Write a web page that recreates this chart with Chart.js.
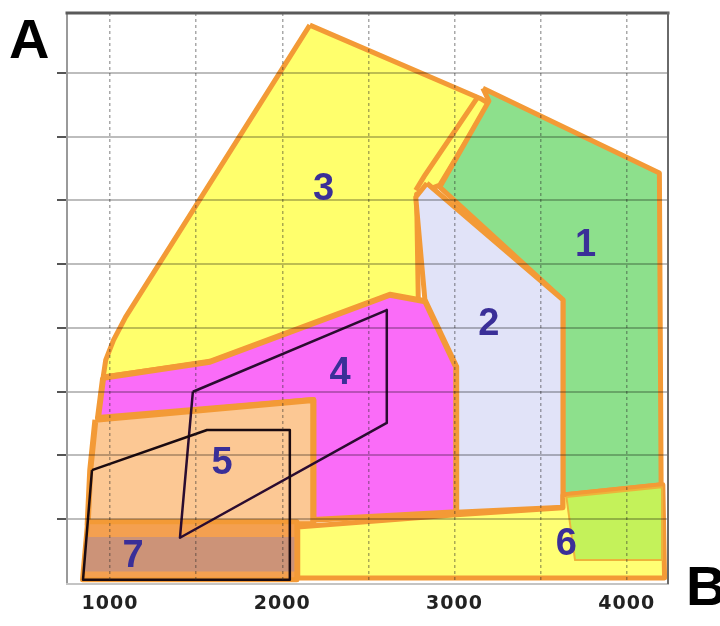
<!DOCTYPE html>
<html>
<head>
<meta charset="utf-8">
<script src="https://cdn.jsdelivr.net/npm/chart.js@4.4.1/dist/chart.umd.min.js"></script>
<style>
html,body{margin:0;padding:0;background:#fff;}
#c{display:block;}
</style>
</head>
<body>
<canvas id="c" width="720" height="626"></canvas>
<script>
// ---- axis values ----
const xMin = 750, xMax = 4240;
const yMin = 0, yMax = 8.94;
const xGridValues = [1000, 1500, 2000, 2500, 3000, 3500, 4000];
const xLabelValues = [1000, 2000, 3000, 4000];
const yGridValues = [1, 2, 3, 4, 5, 6, 7, 8];

// ---- region outlines (x = B, y = A in grid units) ----
const region3 = [[2160,8.75],[3150,7.60],[3200,7.52],[2915,6.24],[2780,6.10],[2790,4.44],[2625,4.50],[1580,3.47],[960,3.23],[975,3.50],[1020,3.81],[1090,4.17]];
const region3Edge = [[3140,7.64],[2825,6.38],[2775,6.16]];
const region1 = [[3165,7.76],[4190,6.43],[4200,1.54],[3630,1.38],[3630,4.44],[2915,6.21],[3200,7.56]];
const region2 = [[2840,6.27],[3630,4.44],[3630,1.19],[3010,1.11],[3010,3.39],[2830,4.39],[2775,6.05]];
const region4 = [[960,3.22],[1580,3.47],[2625,4.52],[2830,4.42],[3010,3.39],[3010,1.11],[2180,0.99],[2180,2.87],[930,2.59]];
const region6 = [[2090,0.88],[3010,1.07],[3630,1.18],[3630,1.38],[4210,1.54],[4220,0.08],[2090,0.08]];
const region6b = [[3650,1.35],[4205,1.50],[4205,0.36],[3700,0.36]];
const region5 = [[915,2.56],[2180,2.87],[2180,0.92],[870,0.92],[885,1.77]];
const region7 = [[870,0.96],[2085,0.96],[2085,0.05],[840,0.05]];
const region7b = [[862,0.72],[2070,0.72],[2070,0.18],[848,0.18]];
const box4 = [[1481,3.00],[2607,4.28],[2607,2.51],[1406,0.71]];
const box5 = [[895,1.77],[1563,2.40],[2044,2.40],[2044,0.05],[843,0.05]];

// ---- region numbers ----
const labelTexts = ['1','2','3','4','5','6','7'];
const labelX = [3762, 3200, 2240, 2335, 1650, 3650, 1133];
const labelY = [5.33, 4.09, 6.21, 3.31, 1.90, 0.63, 0.44];

function pts(arr, close) {
  const p = arr.map(([x, y]) => ({x, y}));
  if (close) p.push({x: arr[0][0], y: arr[0][1]});
  return p;
}
const ORANGE = '#F39A36';
function poly(arr, fillColor, border, width, order) {
  return {
    data: pts(arr, true),
    fill: fillColor ? 'shape' : false,
    backgroundColor: fillColor || 'transparent',
    borderColor: border,
    borderWidth: width,
    borderJoinStyle: 'round',
    pointRadius: 0,
    tension: 0,
    order: order
  };
}

const datasets = [
  poly(region3, '#FFFF6C', ORANGE, 5, 20),
  {data: pts(region3Edge, false), fill: false, borderColor: ORANGE, borderWidth: 5, pointRadius: 0, tension: 0, order: 19},
  poly(region1, '#8DE08C', ORANGE, 5, 18),
  poly(region2, '#E1E3F8', ORANGE, 5, 17),
  poly(region4, '#FA6CF8', ORANGE, 6, 16),
  poly(region6, '#FFFF74', ORANGE, 5, 15),
  poly(region6b, '#C4F25A', '#EDB43A', 2, 14),
  poly(region5, '#FCC894', ORANGE, 6, 13),
  poly(region7, '#F4A050', ORANGE, 5, 12),
  poly(region7b, '#CC9378', 'transparent', 0, 11),
  poly(box4, null, '#2A0C30', 2.5, 2),
  poly(box5, null, '#1A0A10', 2.5, 1)
];

const decor = {
  id: 'decor',
  beforeDraw(chart) { chart.ctx.letterSpacing = '1px'; },
  afterDraw(chart) {
    const ctx = chart.ctx;
    const a = chart.chartArea;
    const xs = chart.scales.x, ys = chart.scales.y;
    ctx.save();
    ctx.letterSpacing = '0px';
    // frame
    ctx.lineCap = 'square';
    ctx.strokeStyle = '#9a9a9a'; ctx.lineWidth = 2;
    ctx.beginPath(); ctx.moveTo(a.left, a.top); ctx.lineTo(a.left, a.bottom); ctx.stroke();
    ctx.strokeStyle = '#c4c4c4'; ctx.lineWidth = 2;
    ctx.beginPath(); ctx.moveTo(a.left, a.bottom + 1); ctx.lineTo(a.right, a.bottom + 1); ctx.stroke();
    ctx.strokeStyle = '#5a5a5a'; ctx.lineWidth = 3;
    ctx.beginPath(); ctx.moveTo(a.left, a.top); ctx.lineTo(a.right, a.top); ctx.stroke();
    ctx.strokeStyle = '#6a6a6a'; ctx.lineWidth = 2;
    ctx.beginPath(); ctx.moveTo(a.right, a.top); ctx.lineTo(a.right, a.bottom); ctx.stroke();
    // region numbers
    ctx.fillStyle = '#3A2F98';
    ctx.font = 'bold 38px "Liberation Sans", Arial, sans-serif';
    ctx.textAlign = 'center';
    ctx.textBaseline = 'middle';
    for (let i = 0; i < labelTexts.length; i++) {
      ctx.fillText(labelTexts[i], xs.getPixelForValue(labelX[i]), ys.getPixelForValue(labelY[i]) + 2);
    }
    // axis names
    ctx.fillStyle = '#000';
    ctx.font = 'bold 56px "Liberation Sans", Arial, sans-serif';
    ctx.textAlign = 'left';
    ctx.textBaseline = 'alphabetic';
    ctx.fillText('A', 9, 58);
    ctx.fillText('B', 686, 605);
    ctx.restore();
  }
};

new Chart(document.getElementById('c'), {
  type: 'line',
  data: { datasets },
  options: {
    responsive: false,
    animation: false,
    devicePixelRatio: 1,
    layout: { padding: { top: 13, right: 52, left: 0, bottom: 0 } },
    plugins: { legend: { display: false }, tooltip: { enabled: false } },
    scales: {
      x: {
        type: 'linear', min: xMin, max: xMax,
        afterBuildTicks: s => { s.ticks = xGridValues.map(v => ({value: v})); },
        afterFit: s => { s.height = 43; },
        grid: { z: 1, color: 'rgba(40,40,40,0.4)', lineWidth: 1.5, drawTicks: false },
        border: { display: false, dash: [3, 3] },
        ticks: {
          padding: 10,
          color: '#222',
          font: { family: '"DejaVu Sans", sans-serif', size: 19, weight: 'bold' },
          maxRotation: 0,
          autoSkip: false,
          callback: v => xLabelValues.includes(v) ? String(v) : ''
        }
      },
      y: {
        type: 'linear', min: yMin, max: yMax,
        afterBuildTicks: s => { s.ticks = yGridValues.map(v => ({value: v})); },
        afterFit: s => { s.width = 67; },
        grid: { z: 1, color: 'rgba(0,0,0,0.26)', lineWidth: 2, drawTicks: true, tickLength: 10, tickColor: '#555', tickWidth: 2 },
        border: { display: false },
        ticks: { display: false }
      }
    }
  },
  plugins: [decor]
});
</script>
</body>
</html>
